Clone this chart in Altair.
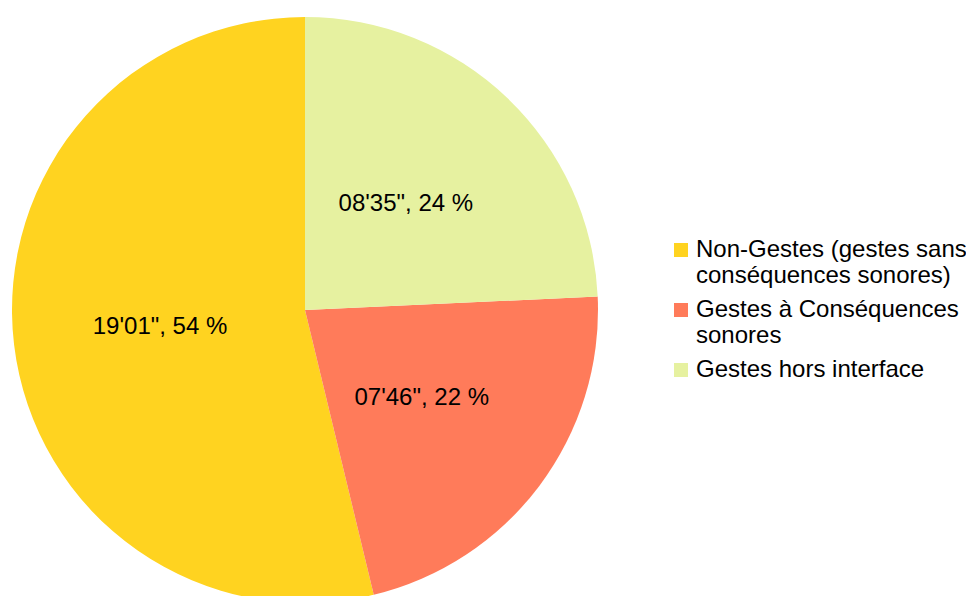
import altair as alt
import pandas as pd

categories = [
    "Non-Gestes (gestes sans|conséquences sonores)",
    "Gestes à Conséquences|sonores",
    "Gestes hors interface",
]
durations_sec = [1141, 466, 515]
slice_labels = ['19\'01", 54 %', '07\'46", 22 %', '08\'35", 24 %']
slice_order = [2, 1, 0]
colors = ["#FFD320", "#FF7B5A", "#E6F1A0"]

df = pd.DataFrame({
    "cat": categories,
    "sec": durations_sec,
    "label": slice_labels,
    "ord": slice_order,
})

CX, CY, R = 297, 302, 293
FONT = "Liberation Sans"

base = alt.Chart(df).encode(
    theta=alt.Theta("sec:Q", stack=True),
    order=alt.Order("ord:Q"),
)

pie = base.mark_arc(radius=R, stroke=None).encode(
    x=alt.value(CX),
    y=alt.value(CY),
    color=alt.Color(
        "cat:N",
        scale=alt.Scale(domain=categories, range=colors),
        legend=alt.Legend(
            title=None,
            orient="none",
            legendX=661,
            legendY=230,
            labelExpr="split(datum.label, '|')",
            labelFont=FONT,
            labelFontSize=24,
            labelColor="#000000",
            labelLimit=400,
            labelOffset=3,
            symbolType="square",
            symbolSize=196,
            symbolStrokeWidth=0,
            rowPadding=10,
        ),
    ),
)

text = base.mark_text(radius=146, font=FONT, fontSize=24, color="#000000").encode(
    x=alt.value(CX),
    y=alt.value(CY),
    text="label:N",
)

chart = (pie + text).properties(
    width=958,
    height=588,
    autosize=alt.AutoSizeParams(type="none"),
    padding=0,
).configure_view(stroke=None)

chart.save("out.html", embed_options={"renderer": "svg", "actions": False})
